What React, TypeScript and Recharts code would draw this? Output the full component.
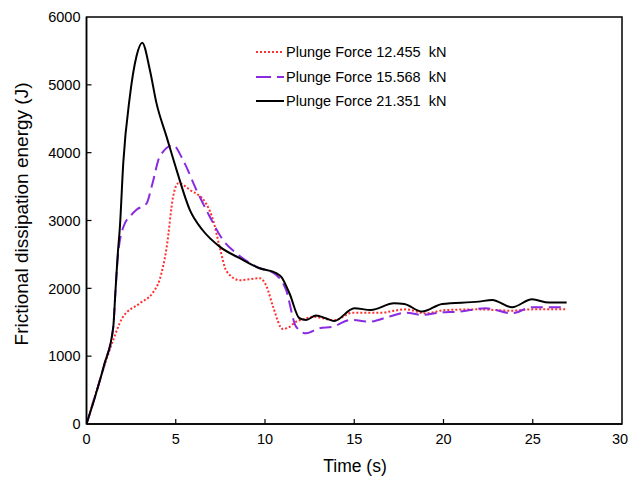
import React from 'react';
import { LineChart, Line, XAxis, YAxis, ReferenceArea } from 'recharts';

// Time (s) and frictional dissipation energy (J) for each plunge force
const redTime = [0, 0.75, 1.5, 2.0, 3.0, 3.7, 4.1, 4.5, 4.85, 5.15, 5.8, 6.7, 7.1, 7.45, 7.85, 8.6, 9.7, 10.1, 10.45, 11.0, 11.3, 11.75, 12.1, 12.7, 13.9, 14.9, 16.4, 17.9, 19.0, 20.1, 22.0, 23.8, 25.0, 26.9];
const redEnergy = [0, 650, 1240, 1560, 1780, 1930, 2130, 2620, 3350, 3550, 3450, 3250, 3000, 2620, 2250, 2120, 2150, 2020, 1730, 1400, 1420, 1510, 1540, 1580, 1530, 1640, 1640, 1690, 1630, 1680, 1690, 1670, 1690, 1690];

const purpleTime = [0, 0.5, 1.0, 1.5, 1.62, 1.75, 2.06, 2.5, 2.8, 3.36, 3.7, 4.1, 4.85, 5.41, 6.16, 6.9, 7.64, 8.39, 9.51, 10.63, 11.18, 11.74, 12.3, 13.04, 13.79, 14.82, 15.84, 16.96, 17.89, 18.8, 19.75, 20.87, 22.36, 23.84, 24.96, 26.9];
const purpleEnergy = [0, 420, 880, 1430, 1950, 2450, 2900, 3080, 3160, 3250, 3550, 3940, 4110, 3890, 3450, 3060, 2714, 2518, 2320, 2198, 1976, 1435, 1337, 1411, 1435, 1534, 1509, 1583, 1642, 1608, 1642, 1657, 1706, 1633, 1721, 1721];

const blackTime = [0, 0.5, 1.0, 1.5, 1.62, 1.75, 1.87, 2.06, 2.43, 2.8, 3.12, 3.55, 3.92, 4.48, 5.04, 5.8, 6.5, 7.46, 8.58, 9.69, 10.63, 10.9, 11.37, 11.93, 12.3, 12.86, 13.4, 13.88, 15.0, 15.93, 17.23, 17.8, 18.8, 19.93, 21.98, 22.73, 23.84, 24.96, 25.9, 26.9];
const blackEnergy = [0, 420, 880, 1430, 1950, 2500, 2900, 3850, 4830, 5420, 5620, 5220, 4730, 4240, 3750, 3150, 2860, 2615, 2444, 2296, 2223, 2173, 1928, 1559, 1534, 1600, 1559, 1519, 1706, 1681, 1780, 1770, 1657, 1770, 1804, 1829, 1721, 1839, 1790, 1790];

const xTicks = [0, 5, 10, 15, 20, 25, 30];
const yTicks = [0, 1000, 2000, 3000, 4000, 5000, 6000];
const seriesNames = ['Plunge Force 12.455  kN', 'Plunge Force 15.568  kN', 'Plunge Force 21.351  kN'];

const toData = (ts: number[], es: number[]) => ts.map((t, i) => ({ t, e: es[i] }));
const redData = toData(redTime, redEnergy);
const purpleData = toData(purpleTime, purpleEnergy);
const blackData = toData(blackTime, blackEnergy);

const FONT = '"Liberation Sans", Arial, sans-serif';
const RED = '#ff3030';
const PURPLE = '#8a2be2';

const YTick = (props: any) => {
  const { x, y, payload } = props;
  const ax = x + 6;
  return (
    <g>
      {payload.value !== 0 && payload.value !== 6000 && (
        <line x1={ax} x2={ax + 5} y1={y} y2={y} stroke="#000" strokeWidth={1.2} />
      )}
      <text x={x} y={y} dy="0.36em" textAnchor="end" fontFamily={FONT} fontSize={14.5} fill="#000">
        {payload.value}
      </text>
    </g>
  );
};

const XTick = (props: any) => {
  const { x, y, payload } = props;
  const ay = y - 9;
  return (
    <g>
      {payload.value !== 0 && payload.value !== 30 && (
        <line x1={x} x2={x} y1={ay} y2={ay - 5} stroke="#000" strokeWidth={1.2} />
      )}
      <text x={x} y={y} dy="0.75em" dx={payload.value === 30 ? -2 : 0} textAnchor="middle" fontFamily={FONT} fontSize={14.5} fill="#000">
        {payload.value}
      </text>
    </g>
  );
};

const LegendBox = () => {
  const rows = [
    { name: seriesNames[0], color: RED, dash: '2 2' },
    { name: seriesNames[1], color: PURPLE, dash: '15 6' },
    { name: seriesNames[2], color: '#000', dash: undefined },
  ];
  return (
    <div style={{ position: 'absolute', left: 256, top: 40, fontFamily: FONT, fontSize: 14.5, color: '#000' }}>
      {rows.map((r) => (
        <div key={r.name} style={{ display: 'flex', alignItems: 'center', height: 24.5, whiteSpace: 'pre' }}>
          <svg width={28} height={10} style={{ marginRight: 2 }}>
            <line x1={0} x2={28} y1={5} y2={5} stroke={r.color} strokeWidth={2} strokeDasharray={r.dash} />
          </svg>
          <span>{r.name}</span>
        </div>
      ))}
    </div>
  );
};

export default function App() {
  return (
    <div style={{ position: 'absolute', left: 0, top: 0, width: 629, height: 481, background: '#fff' }}>
      <LineChart width={629} height={481} data={blackData} margin={{ top: 17, right: 7, left: 26.5, bottom: 27 }}>
        <XAxis
          dataKey="t"
          type="number"
          domain={[0, 30]}
          ticks={xTicks}
          interval={0}
          height={30}
          tickSize={0}
          tickMargin={9}
          tickLine={false}
          tick={<XTick />}
          axisLine={{ stroke: '#000', strokeWidth: 1.5 }}
          allowDataOverflow
        />
        <YAxis
          dataKey="e"
          type="number"
          domain={[0, 6000]}
          ticks={yTicks}
          interval={0}
          width={60}
          tickSize={0}
          tickMargin={6}
          tickLine={false}
          tick={<YTick />}
          axisLine={{ stroke: '#000', strokeWidth: 1.5 }}
          allowDataOverflow
        />
        <ReferenceArea x1={0} x2={30} y1={0} y2={6000} fill="none" stroke="#000" strokeWidth={1.5} ifOverflow="visible" />
        <Line data={redData} dataKey="e" type="monotone" stroke={RED} strokeWidth={2} strokeDasharray="2 2" dot={false} isAnimationActive={false} name={seriesNames[0]} />
        <Line data={purpleData} dataKey="e" type="monotone" stroke={PURPLE} strokeWidth={2} strokeDasharray="12 6" dot={false} isAnimationActive={false} name={seriesNames[1]} />
        <Line data={blackData} dataKey="e" type="monotone" stroke="#000" strokeWidth={2} dot={false} isAnimationActive={false} name={seriesNames[2]} />
      </LineChart>
      <LegendBox />
      <div style={{ position: 'absolute', left: 0, top: 0, width: 629, height: 481, pointerEvents: 'none', fontFamily: FONT, color: '#000' }}>
        <div style={{ position: 'absolute', left: 355, top: 456, transform: 'translateX(-50%)', fontSize: 17.5, whiteSpace: 'nowrap' }}>Time (s)</div>
        <div style={{ position: 'absolute', left: 22, top: 214, transform: 'translate(-50%, -50%) rotate(-90deg)', fontSize: 19, whiteSpace: 'nowrap' }}>
          Frictional dissipation energy (J)
        </div>
      </div>
    </div>
  );
}
